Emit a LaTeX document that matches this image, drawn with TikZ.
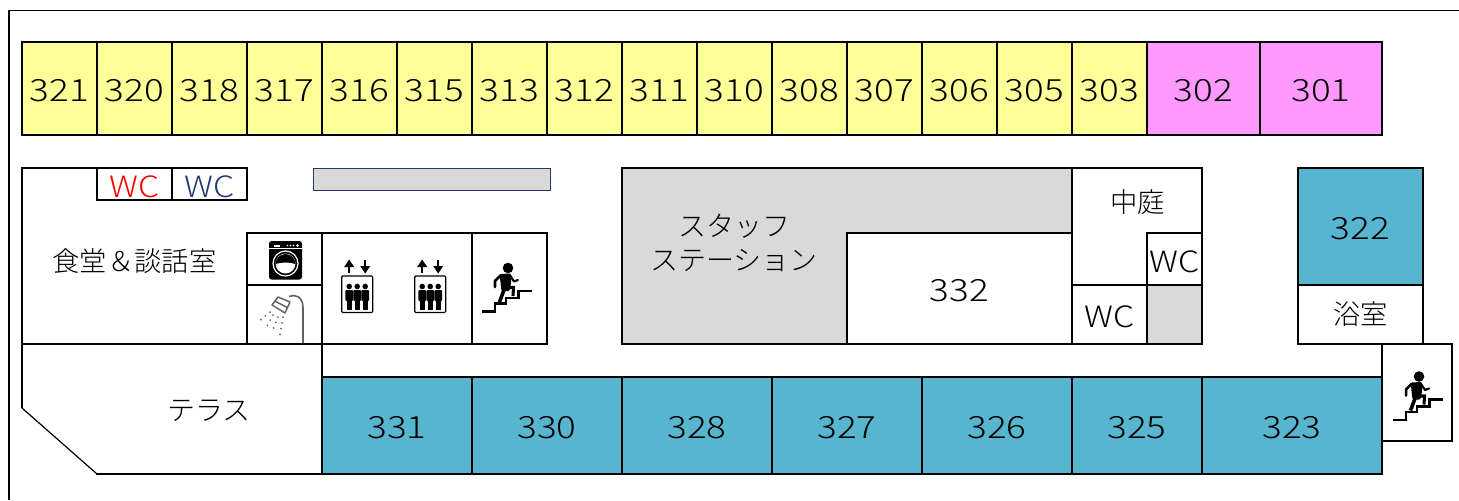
\documentclass[tikz,border=0pt]{standalone}
\usepackage{fontspec}
\setmainfont{Noto Sans CJK JP}[UprightFont=* Light]
\newfontfamily\digitfont{Noto Sans CJK JP}[UprightFont=* Light,FakeStretch=1.2]
\newfontfamily\wcfont{Noto Sans CJK JP}[UprightFont=* Light,FakeStretch=1.15]
\definecolor{roomyellow}{HTML}{FFFF99}
\definecolor{roompink}{HTML}{FF99FF}
\definecolor{roomblue}{HTML}{57B5CF}
\definecolor{roomgrey}{HTML}{D9D9D9}
\definecolor{wcnavy}{HTML}{1F3A70}
\tikzset{
  wall/.style={draw=black,line width=1.4pt,line join=miter,outer sep=0pt},
  room/.style={wall,inner sep=0pt,text height=20pt,text depth=0pt,font=\digitfont\fontsize{23}{23}\selectfont},
  lbl/.style={inner sep=0pt,font=\fontsize{20.5}{25.5}\selectfont,align=center},
  kana/.style={inner sep=0pt,font=\fontsize{21}{25.5}\selectfont,align=center},
  wclbl/.style={inner sep=0pt,text height=19.6pt,text depth=0pt,font=\wcfont\fontsize{22}{22}\selectfont},
  pics/stairicon/.style={code={
    \fill (0,0) circle[radius=5.3];
    \fill[rounded corners=1pt] (-8.5,6) -- (3,5.5) -- (3,15) -- (1.5,23) -- (-6.5,23) -- cycle;
    \draw[line width=2.7pt] (-4,22) -- (-8.5,34);
    \draw[line width=2.3pt] (-1,19.5) -- (5.5,19.5) -- (5,28);
    \draw[line width=1.9pt,line cap=round,line join=round] (-7.5,7.5) -- (-13,13) -- (-13,19);
    \draw[line width=1.6pt,line cap=round,line join=round] (2,7.5) -- (6,13.5) -- (10,12);
    \draw[line width=1.7pt] (-26,43.5) -- (-13,43.5) -- (-13,35.5) -- (-2,35.5) -- (-2,30) -- (10.5,30) -- (10.5,23) -- (24,23);
  }},
  pics/lifticon/.style={code={
    \draw[line width=.9pt,rounded corners=.8pt] (-15.5,0) rectangle (15.5,36.5);
    \draw[line width=1.6pt] (-8,-3) -- (-8,-11);
    \draw[line width=1.6pt] (8,-16) -- (8,-7);
    \fill (-8,-16.5) -- (-13,-9) -- (-3,-9) -- cycle;
    \fill (8,-2.5) -- (3,-10) -- (13,-10) -- cycle;
    \foreach \dx in {-8,0,8}{
      \fill (\dx,10.5) circle[radius=2.8];
      \fill[rounded corners=.8pt] (\dx-3.9,14) rectangle (\dx+3.9,25);
      \fill (\dx-2.7,24) rectangle (\dx-.2,34);
      \fill (\dx+.2,24) rectangle (\dx+2.7,34);
    }
  }},
  pics/washicon/.style={code={
    \fill[rounded corners=2pt] (-16.5,-19.5) rectangle (16.5,19);
    \draw[white,line width=.5pt] (-16.5,-12) -- (16.5,-12);
    \fill[white] (-12,-15.5) rectangle (-6,-14);
    \foreach \dx in {2,5,8}{\fill[white] (\dx,-15) circle[radius=.8];}
    \fill[white] (12,-15) circle[radius=1.3];
    \draw[white,line width=.9pt] (0,3) circle[radius=12.5];
    \fill[white] (0,3) circle[radius=10];
    \fill[black] (-10,3.5) .. controls (-4,1.5) and (4,1.5) .. (10,3.5) arc[start angle=0,end angle=-180,radius=10];
  }},
  pics/showericon/.style={code={
    \draw[draw=black!62,line width=1.2pt] (6,-14.5) .. controls (12,-17) and (20,-15) .. (20,-3) -- (20,32);
    \draw[draw=black!62,fill=white,line width=1.1pt,line join=round] (-11,-6) -- (2,2) -- (7,-9) -- (-5,-14) -- cycle;
    \draw[draw=black!62,line width=1.1pt] (-8.5,-10) -- (4.5,-3.5);
    \draw[black!62,line width=1.5pt,line cap=round,dash pattern=on 0pt off 4.4pt] (-13,1) -- (-25,11);
    \draw[black!62,line width=1.5pt,line cap=round,dash pattern=on 0pt off 4.4pt] (-10,4) -- (-18,19);
    \draw[black!62,line width=1.5pt,line cap=round,dash pattern=on 0pt off 4.4pt] (-5,6) -- (-11,21);
    \draw[black!62,line width=1.5pt,line cap=round,dash pattern=on 0pt off 4.4pt] (0,6) -- (-3,24);
  }}
}
\begin{document}
\begin{tikzpicture}[x=0.75pt,y=-0.75pt]
\useasboundingbox (0,0) rectangle (1459,500);
% outer frame
\draw[line width=1.4pt] (9,500) -- (9,10.5) -- (1459,10.5);
% top row, yellow
\foreach \n [count=\i from 0] in {321,320,318,317,316,315,313,312,311,310,308,307,306,305,303}{
  \node[room,fill=roomyellow,anchor=north west,minimum width=56.25pt,minimum height=69.75pt] (r\n) at ({22+75*\i},42) {\n};
}
\node[room,fill=roompink,anchor=north west,minimum width=84.75pt,minimum height=69.75pt] (r302) at (1147,42) {302};
\node[room,fill=roompink,anchor=north west,minimum width=91.5pt,minimum height=69.75pt] (r301) at (1260,42) {301};
% bottom row, blue
\foreach \n/\xa/\w in {331/322/112.5,330/472/112.5,328/622/112.5,327/772/112.5,326/922/112.5,325/1072/97.5,323/1202/135}{
  \node[room,fill=roomblue,anchor=north west,minimum width=\w pt,minimum height=72.75pt] (r\n) at (\xa,377) {\n};
}
\node[room,fill=roomblue,anchor=north west,minimum width=93.75pt,minimum height=87.75pt] (r322) at (1298,168) {322};
\node[wall,fill=white,anchor=north west,minimum width=93.75pt,minimum height=44.25pt,lbl] (bath) at (1298,285) {\raisebox{-1.2pt}{浴室}};
% dining room
\draw[wall] (97,168) -- (22,168) -- (22,344) -- (547,344);
\node[lbl] (dining) at (134.5,261) {食堂＆談話室};
\node[wall,anchor=north west,minimum width=56.25pt,minimum height=24pt,wclbl,text=red] (wcf) at (97,168) {WC};
\node[wall,anchor=north west,minimum width=56.25pt,minimum height=24pt,wclbl,text=wcnavy] (wcm) at (172,168) {WC};
% grey bar
\draw[draw=wcnavy,line width=.6pt,fill=roomgrey] (313,168) rectangle (550,190.5);
% service rooms
\node[wall,anchor=north west,minimum width=56.25pt,minimum height=39pt,inner sep=0pt] (wash) at (247,233) {};
\node[wall,anchor=north west,minimum width=56.25pt,minimum height=44.25pt,inner sep=0pt] (shower) at (247,285) {};
\node[wall,anchor=north west,minimum width=112.5pt,minimum height=83.25pt,inner sep=0pt] (lift) at (322,233) {};
\node[wall,anchor=north west,minimum width=56.25pt,minimum height=83.25pt,inner sep=0pt] (stair1) at (472,233) {};
\pic at (285.5,260.5) {washicon};
\pic at (283,311) {showericon};
\pic at (357.2,276) {lifticon};
\pic at (430.2,276) {lifticon};
\pic at (508,268) {stairicon};
% terrace
\draw[wall] (322,344) -- (322,474);
\draw[line width=1.1pt] (322,474) -- (96,474);
\draw[line width=.9pt] (97,474) -- (22,408);
\draw[wall] (22,344) -- (22,408);
\node[kana] (terrace) at (209,411) {テラス};
% staff station
\draw[wall,fill=roomgrey] (622,168) -- (1072,168) -- (1072,233) -- (847,233) -- (847,344) -- (622,344) -- cycle;
\node[kana] (staff) at (734,243) {スタッフ\\ステーション};
\node[room,fill=white,anchor=north west,minimum width=168.75pt,minimum height=83.25pt] (r332) at (847,233) {332};
% courtyard
\draw[wall] (1072,168) -- (1202,168) -- (1202,233) -- (1147,233) -- (1147,285) -- (1072,285) -- cycle;
\node[lbl] (court) at (1137.5,202) {中庭};
\node[wall,anchor=north west,minimum width=56.25pt,minimum height=44.25pt,wclbl] (wc1) at (1072,285) {WC};
\node[wall,anchor=north west,minimum width=41.25pt,minimum height=39pt,wclbl] (wc2) at (1147,233) {WC};
\node[wall,fill=roomgrey,anchor=north west,minimum width=41.25pt,minimum height=44.25pt,inner sep=0pt] (store) at (1147,285) {};
% right stairs
\node[wall,anchor=north west,minimum width=52.5pt,minimum height=72.75pt,inner sep=0pt,fill=white] (stair2) at (1382,344) {};
\pic at (1419,376.5) {stairicon};
\end{tikzpicture}
\end{document}
